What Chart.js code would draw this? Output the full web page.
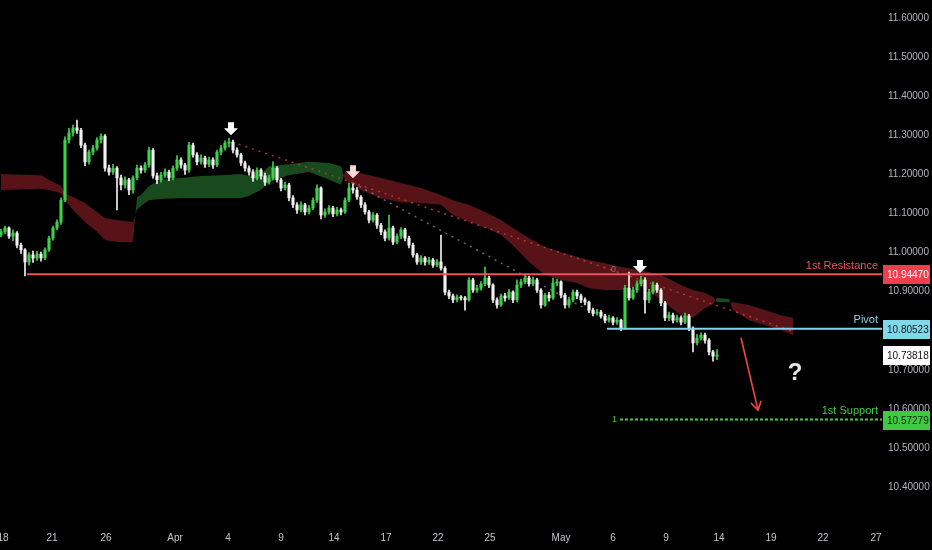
<!DOCTYPE html>
<html>
<head>
<meta charset="utf-8">
<script src="https://cdn.jsdelivr.net/npm/chart.js@4.4.0/dist/chart.umd.min.js"></script>
<style>
  html, body { margin: 0; padding: 0; background: #000; }
  #wrap { width: 932px; height: 550px; }
</style>
</head>
<body>
<div id="wrap"><canvas id="chart" width="932" height="550"></canvas></div>
<script>
// candles, one per bar index
const opens = [
11.045,11.053,11.063,11.042,11.050,11.019,11.007,10.976,10.994,10.986,
10.996,10.986,11.007,11.037,11.063,11.078,11.134,11.288,11.306,11.319,
11.313,11.275,11.232,11.257,11.267,11.288,11.298,11.216,11.206,11.216,
11.191,11.173,11.186,11.160,11.191,11.216,11.211,11.224,11.262,11.196,
11.186,11.198,11.206,11.191,11.216,11.237,11.224,11.211,11.275,11.250,
11.232,11.242,11.226,11.237,11.224,11.257,11.267,11.280,11.283,11.262,
11.250,11.229,11.216,11.206,11.191,11.211,11.196,11.180,11.191,11.216,
11.186,11.165,11.173,11.140,11.122,11.109,11.122,11.104,11.114,11.134,
11.165,11.096,11.104,11.114,11.099,11.109,11.104,11.134,11.165,11.160,
11.142,11.122,11.104,11.083,11.096,11.070,11.053,11.037,11.063,11.027,
11.042,11.058,11.037,11.019,10.994,10.976,10.986,10.976,10.981,10.968,
10.976,10.960,10.899,10.889,10.879,10.886,10.884,10.879,10.930,10.904,
10.909,10.920,10.935,10.917,10.879,10.866,10.889,10.884,10.899,10.879,
10.917,10.925,10.935,10.920,10.930,10.904,10.866,10.891,10.884,10.922,
10.925,10.891,10.866,10.879,10.899,10.889,10.879,10.873,10.853,10.845,
10.848,10.838,10.827,10.833,10.822,10.827,10.807,10.909,10.884,10.904,
10.920,10.930,10.879,10.899,10.917,10.904,10.871,10.833,10.840,10.827,
10.833,10.822,10.838,10.807,10.769,10.781,10.789,10.776,10.746,10.735
]
const highs = [
11.060,11.068,11.066,11.058,11.054,11.024,11.010,11.000,11.004,11.003,
11.001,11.012,11.042,11.068,11.084,11.140,11.296,11.318,11.326,11.339,
11.318,11.280,11.262,11.274,11.294,11.304,11.302,11.224,11.226,11.220,
11.198,11.194,11.190,11.196,11.224,11.222,11.230,11.270,11.266,11.203,
11.205,11.214,11.211,11.222,11.248,11.242,11.228,11.282,11.280,11.256,
11.250,11.247,11.244,11.242,11.262,11.274,11.286,11.293,11.288,11.268,
11.254,11.234,11.222,11.212,11.217,11.215,11.203,11.198,11.232,11.220,
11.190,11.180,11.177,11.146,11.128,11.130,11.126,11.120,11.140,11.173,
11.168,11.112,11.120,11.118,11.116,11.114,11.140,11.178,11.176,11.166,
11.146,11.128,11.108,11.102,11.100,11.075,11.058,11.096,11.068,11.048,
11.064,11.062,11.042,11.024,10.998,10.992,10.990,10.988,10.985,10.982,
11.045,10.964,10.904,10.894,10.892,10.890,10.888,10.936,10.934,10.916,
10.926,10.963,10.940,10.920,10.884,10.894,10.896,10.906,10.902,10.930,
10.932,10.942,10.940,10.938,10.934,10.908,10.896,10.898,10.935,10.932,
10.928,10.895,10.886,10.905,10.904,10.894,10.884,10.876,10.858,10.855,
10.852,10.842,10.840,10.836,10.834,10.830,10.916,10.950,10.912,10.928,
10.940,10.936,10.906,10.925,10.922,10.908,10.875,10.848,10.845,10.840,
10.838,10.845,10.842,10.810,10.790,10.795,10.794,10.780,10.750,10.752
]
const lows = [
11.040,11.048,11.036,11.030,11.012,10.998,10.940,10.968,10.975,10.980,
10.978,10.982,11.003,11.032,11.058,11.072,11.130,11.280,11.298,11.305,
11.268,11.222,11.226,11.250,11.262,11.280,11.208,11.198,11.200,11.109,
11.160,11.165,11.148,11.152,11.186,11.203,11.205,11.218,11.190,11.176,
11.180,11.192,11.184,11.186,11.210,11.216,11.200,11.205,11.244,11.224,
11.226,11.218,11.220,11.215,11.220,11.250,11.262,11.270,11.255,11.244,
11.222,11.208,11.198,11.182,11.186,11.188,11.172,11.175,11.186,11.180,
11.158,11.160,11.132,11.115,11.100,11.104,11.096,11.098,11.110,11.128,
11.086,11.090,11.098,11.092,11.094,11.096,11.100,11.130,11.152,11.136,
11.115,11.098,11.076,11.078,11.062,11.046,11.030,11.032,11.020,11.022,
11.036,11.030,11.012,10.988,10.970,10.970,10.968,10.970,10.962,10.964,
10.955,10.892,10.882,10.872,10.874,10.878,10.853,10.876,10.898,10.898,
10.904,10.915,10.910,10.872,10.858,10.862,10.876,10.880,10.872,10.874,
10.910,10.920,10.914,10.915,10.898,10.858,10.862,10.876,10.880,10.915,
10.884,10.858,10.860,10.874,10.882,10.872,10.866,10.846,10.838,10.840,
10.832,10.820,10.822,10.815,10.816,10.800,10.804,10.878,10.880,10.898,
10.915,10.845,10.872,10.894,10.898,10.864,10.826,10.826,10.820,10.822,
10.815,10.818,10.800,10.746,10.764,10.776,10.768,10.738,10.722,10.726
]
const closes = [
11.053,11.063,11.042,11.050,11.019,11.007,10.976,10.994,10.986,10.996,
10.986,11.007,11.037,11.063,11.078,11.134,11.288,11.306,11.319,11.313,
11.275,11.232,11.257,11.267,11.288,11.298,11.216,11.206,11.216,11.191,
11.173,11.186,11.160,11.191,11.216,11.211,11.224,11.262,11.196,11.186,
11.198,11.206,11.191,11.216,11.237,11.224,11.211,11.275,11.250,11.232,
11.242,11.226,11.237,11.224,11.257,11.267,11.280,11.283,11.262,11.250,
11.229,11.216,11.206,11.191,11.211,11.196,11.180,11.191,11.216,11.186,
11.165,11.173,11.140,11.122,11.109,11.122,11.104,11.114,11.134,11.165,
11.096,11.104,11.114,11.099,11.109,11.104,11.134,11.165,11.160,11.142,
11.122,11.104,11.083,11.096,11.070,11.053,11.037,11.063,11.027,11.042,
11.058,11.037,11.019,10.994,10.976,10.986,10.976,10.981,10.968,10.976,
10.960,10.899,10.889,10.879,10.886,10.884,10.879,10.930,10.904,10.909,
10.920,10.935,10.917,10.879,10.866,10.889,10.884,10.899,10.879,10.917,
10.925,10.935,10.920,10.930,10.904,10.866,10.891,10.884,10.922,10.925,
10.891,10.866,10.879,10.899,10.889,10.879,10.873,10.853,10.845,10.848,
10.838,10.827,10.833,10.822,10.827,10.807,10.909,10.884,10.904,10.920,
10.930,10.879,10.899,10.917,10.904,10.871,10.833,10.840,10.827,10.833,
10.822,10.838,10.807,10.769,10.781,10.789,10.776,10.746,10.735,10.73818
]

// ichimoku cloud (senkou span A / B), shifted ahead
const cloudIdx = [0,10,12,15,16,18,21,24,26,29,33,34,35,37,40,45,50,55,60,62,65,67,72,77,82,85,86,90,95,100,105,110,113,117,121,125,128,132,136,140,144,147,151,155,160,165,170,173,176,178,179,182,183,187,191,195,198]
const spanA = [11.160,11.163,11.160,11.152,11.134,11.109,11.078,11.053,11.032,11.027,11.027,11.142,11.147,11.170,11.186,11.191,11.196,11.198,11.201,11.196,11.201,11.221,11.226,11.232,11.229,11.221,11.186,11.160,11.139,11.129,11.127,11.122,11.096,11.078,11.065,11.045,11.019,10.976,10.943,10.930,10.922,10.909,10.904,10.904,10.917,10.879,10.840,10.833,10.858,10.868,10.884,10.881,10.853,10.827,10.815,10.802,10.789]
const spanB = [11.201,11.198,11.186,11.170,11.152,11.142,11.127,11.104,11.088,11.083,11.078,11.109,11.119,11.134,11.137,11.139,11.139,11.139,11.139,11.145,11.160,11.180,11.198,11.206,11.186,11.173,11.206,11.203,11.191,11.178,11.165,11.147,11.134,11.122,11.104,11.083,11.063,11.037,11.014,11.001,10.989,10.981,10.973,10.963,10.955,10.943,10.917,10.904,10.897,10.887,10.873,10.873,10.873,10.866,10.853,10.840,10.833]

// levels
const levelNames = ['1st Resistance', 'Pivot', '1st Support']
const levelValues = [10.94470, 10.80523, 10.57279]
const levelStart = [6.5, 151.5, 154.75]
const lastPrice = 10.73818

// dotted trend lines
const trendRedX = [57.75, 198.5]
const trendRedY = [11.283, 10.797]
const trendGreyX = [88, 152.75]
const trendGreyY = [11.178, 10.820]

// markers
const downArrowX = [57.5, 88, 159.75]
const downArrowY = [11.300, 11.190, 10.948]
const bigArrowX = [185, 189.25]
const bigArrowY = [10.782, 10.597]
const questionAt = [198.5, 10.692]

// axes
const xTickPos = [0.5,12.75,26.25,43.5,56.75,70,83.25,96.25,109.25,122.25,140,153,166.25,179.5,192.5,205.5,218.75]
const xTickLabels = ['18','21','26','Apr','4','9','14','17','22','25','May','6','9','14','19','22','27']
const yTickValues = [10.4,10.5,10.6,10.7,10.8,10.9,11.0,11.1,11.2,11.3,11.4,11.5,11.6]
const xMin = -0.25, xMax = 220.25
const yMin = 10.316, yMax = 11.646

const bull = '#3fcf4a'
const bear = '#f2f2f2'
const levelColors = ['#f0505c', '#7fd6e8', '#43c943']
const boxColors = ['#ef3f4c', '#80d8ea', '#3ecb3e']
const boxText = ['#ffffff', '#0d1b22', '#0a240a']
const axisFont = '"Liberation Sans", Arial, sans-serif'

const candleColor = (i) => closes[i] >= opens[i] ? bull : bear

const bodies = closes.map((c, i) => ({ x: i, y: [opens[i], c] }))
const wicks = highs.map((h, i) => ({ x: i, y: [lows[i], h] }))
const lineOf = (xs, ys) => xs.map((x, k) => ({ x: x, y: ys[k] }))

const overlay = {
    id: 'overlay',
    beforeDraw(chart) {
        const ctx = chart.ctx
        ctx.save()
        ctx.fillStyle = '#000'
        ctx.fillRect(0, 0, chart.width, chart.height)
        ctx.restore()
    },
    afterDraw(chart) {
        const ctx = chart.ctx
        const xs = chart.scales.x
        const ys = chart.scales.y
        const area = chart.chartArea
        ctx.save()

        // level captions
        ctx.font = '11px ' + axisFont
        ctx.textAlign = 'right'
        ctx.textBaseline = 'bottom'
        levelNames.forEach((name, k) => {
            ctx.fillStyle = levelColors[k]
            ctx.fillText(name, area.right - 4, ys.getPixelForValue(levelValues[k]) - 3)
        })

        // small fib-like markers
        ctx.font = '9px ' + axisFont
        ctx.textAlign = 'left'
        ctx.textBaseline = 'middle'
        ctx.fillStyle = 'rgba(200,200,200,0.5)'
        ctx.fillText('0', xs.getPixelForValue(152.5), ys.getPixelForValue(10.957))
        ctx.fillStyle = '#43c943'
        ctx.fillText('1', xs.getPixelForValue(152.75), ys.getPixelForValue(10.5728))

        // price boxes on the axis
        const boxes = levelValues.map((v, k) => ({ v: v, bg: boxColors[k], fg: boxText[k] }))
        boxes.splice(2, 0, { v: lastPrice, bg: '#ffffff', fg: '#111111' })
        ctx.font = '10px ' + axisFont
        ctx.textBaseline = 'middle'
        boxes.forEach(b => {
            const y = Math.round(ys.getPixelForValue(b.v))
            ctx.fillStyle = b.bg
            ctx.fillRect(area.right + 1, y - 9, chart.width - area.right - 3, 19)
            ctx.fillStyle = b.fg
            ctx.textAlign = 'left'
            ctx.fillText(b.v.toFixed(5), area.right + 5, y + 1)
        })

        // white down arrows
        downArrowX.forEach((xv, k) => {
            const x = xs.getPixelForValue(xv)
            const y = ys.getPixelForValue(downArrowY[k])
            ctx.fillStyle = k == 1 ? '#f7d7da' : '#ffffff'
            ctx.beginPath()
            ctx.moveTo(x - 3, y - 13)
            ctx.lineTo(x + 3, y - 13)
            ctx.lineTo(x + 3, y - 7)
            ctx.lineTo(x + 7, y - 7)
            ctx.lineTo(x, y)
            ctx.lineTo(x - 7, y - 7)
            ctx.lineTo(x - 3, y - 7)
            ctx.closePath()
            ctx.fill()
        })

        // red projection arrow
        const ax0 = xs.getPixelForValue(bigArrowX[0]), ay0 = ys.getPixelForValue(bigArrowY[0])
        const ax1 = xs.getPixelForValue(bigArrowX[1]), ay1 = ys.getPixelForValue(bigArrowY[1])
        const ang = Math.atan2(ay1 - ay0, ax1 - ax0)
        ctx.strokeStyle = '#f0473f'
        ctx.lineWidth = 1.6
        ctx.beginPath()
        ctx.moveTo(ax0, ay0)
        ctx.lineTo(ax1, ay1)
        ctx.moveTo(ax1 - 10 * Math.cos(ang - 0.55), ay1 - 10 * Math.sin(ang - 0.55))
        ctx.lineTo(ax1, ay1)
        ctx.lineTo(ax1 - 10 * Math.cos(ang + 0.55), ay1 - 10 * Math.sin(ang + 0.55))
        ctx.stroke()

        // question mark
        ctx.font = 'bold 24px ' + axisFont
        ctx.textAlign = 'center'
        ctx.textBaseline = 'middle'
        ctx.fillStyle = '#e6e6e6'
        ctx.fillText('?', xs.getPixelForValue(questionAt[0]), ys.getPixelForValue(questionAt[1]))

        ctx.restore()
    }
}

const ctx = document.getElementById('chart').getContext('2d')
const myChart = new Chart(ctx, {
    type: 'bar',
    data: {
        datasets: [
            {
                type: 'line',
                data: lineOf(cloudIdx, spanA),
                borderWidth: 0,
                pointRadius: 0,
                fill: { target: '+1', above: 'rgba(40,120,48,0.62)', below: 'rgba(140,30,38,0.62)' },
                order: 10
            },
            {
                type: 'line',
                data: lineOf(cloudIdx, spanB),
                borderWidth: 0,
                pointRadius: 0,
                fill: false,
                order: 10
            },
            {
                type: 'line',
                data: lineOf(trendRedX, trendRedY),
                borderColor: 'rgba(200,60,60,0.85)',
                borderWidth: 1.5,
                borderDash: [2, 5],
                pointRadius: 0,
                order: 5
            },
            {
                type: 'line',
                data: lineOf(trendGreyX, trendGreyY),
                borderColor: 'rgba(170,170,170,0.6)',
                borderWidth: 1.5,
                borderDash: [2, 5],
                pointRadius: 0,
                order: 5
            },
            {
                type: 'line',
                data: lineOf([levelStart[0], xMax], [levelValues[0], levelValues[0]]),
                borderColor: levelColors[0],
                borderWidth: 2,
                pointRadius: 0,
                order: 0
            },
            {
                type: 'line',
                data: lineOf([levelStart[1], xMax], [levelValues[1], levelValues[1]]),
                borderColor: levelColors[1],
                borderWidth: 2,
                pointRadius: 0,
                order: 0
            },
            {
                type: 'line',
                data: lineOf([levelStart[2], xMax], [levelValues[2], levelValues[2]]),
                borderColor: levelColors[2],
                borderWidth: 2,
                borderDash: [3, 2],
                pointRadius: 0,
                order: 0
            },
            {
                data: wicks,
                backgroundColor: (c) => candleColor(c.dataIndex),
                barThickness: 1,
                grouped: false,
                order: 2
            },
            {
                data: bodies,
                backgroundColor: (c) => candleColor(c.dataIndex),
                barThickness: 2.5,
                minBarLength: 1,
                grouped: false,
                order: 1
            }
        ]
    },
    options: {
        responsive: false,
        animation: false,
        events: [],
        layout: { padding: 0 },
        plugins: {
            legend: { display: false },
            tooltip: { enabled: false }
        },
        scales: {
            x: {
                type: 'linear',
                min: xMin,
                max: xMax,
                offset: false,
                grid: { display: false, drawTicks: false },
                border: { display: false },
                afterBuildTicks: (s) => { s.ticks = xTickPos.map(v => ({ value: v })) },
                afterFit: (s) => { s.height = 30; s.paddingLeft = 0; s.paddingRight = 0 },
                ticks: {
                    autoSkip: false,
                    maxRotation: 0,
                    padding: 12,
                    color: '#c4c6cc',
                    font: { family: axisFont, size: 10 },
                    callback: (v, i) => xTickLabels[i]
                }
            },
            y: {
                type: 'linear',
                position: 'right',
                min: yMin,
                max: yMax,
                grid: { display: false, drawTicks: false },
                border: { display: false },
                afterBuildTicks: (s) => { s.ticks = yTickValues.map(v => ({ value: v })) },
                afterFit: (s) => { s.width = 50; s.paddingTop = 0; s.paddingBottom = 0 },
                ticks: {
                    padding: 6,
                    color: '#b2b5be',
                    font: { family: axisFont, size: 10 },
                    callback: (v) => Number(v).toFixed(5)
                }
            }
        }
    },
    plugins: [overlay]
});
</script>
</body>
</html>
